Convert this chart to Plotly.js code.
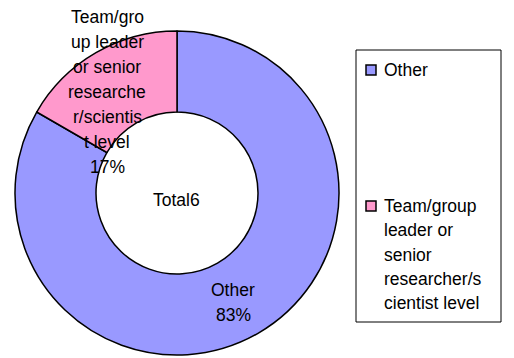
<!DOCTYPE html>
<html>
<head>
<meta charset="utf-8">
<script src="https://cdn.plot.ly/plotly-3.0.1.min.js"></script>
<style>html,body{margin:0;padding:0;background:#fff;}#chart{width:514px;height:358px;}</style>
</head>
<body>
<div id="chart"></div>
<script>
const labels = ['Other', 'Team/group leader or senior researcher/scientist level'];
const values = [5, 1];
const colors = ['#9999ff', '#ff99cc'];
const centerText = 'Total6';
const sliceLabelLines = [['Other'], ['Team/gro', 'up leader', 'or senior', 'researche', 'r/scientis', 't level']];
const legendLines = [['Other'], ['Team/group', 'leader or', 'senior', 'researcher/s', 'cientist level']];

const W = 514, H = 358;
const px = x => x / W;
const py = y => 1 - y / H;
const FONT = 'Liberation Sans, Arial, sans-serif';
const FS = 17.5;
const total = values.reduce((a, b) => a + b, 0);
const pct = values.map(v => Math.round(100 * v / total) + '%');

const annotations = [];
function addLine(text, x, y, anchor) {
  annotations.push({
    text: text, x: px(x), y: py(y), xref: 'paper', yref: 'paper',
    xanchor: anchor || 'center', yanchor: 'middle', showarrow: false,
    font: {family: FONT, size: FS, color: '#000'}
  });
}
// slice labels
const sliceLabelPos = [{x: 233, y: 290}, {x: 107, y: 17}];
const LH = 25;
sliceLabelLines.forEach((lines, i) => {
  const all = lines.concat([pct[i]]);
  all.forEach((t, j) => addLine(t, sliceLabelPos[i].x, sliceLabelPos[i].y + j * LH));
});
// center text
addLine(centerText, 176, 200);

// legend
const shapes = [{
  type: 'rect', xref: 'paper', yref: 'paper',
  x0: px(356), x1: px(501), y0: py(50), y1: py(322),
  line: {color: '#000', width: 1}, fillcolor: 'rgba(0,0,0,0)'
}];
const legendTop = [70, 206];
const LLH = 24.3;
legendLines.forEach((lines, i) => {
  shapes.push({
    type: 'rect', xref: 'paper', yref: 'paper',
    x0: px(366), x1: px(376), y0: py(legendTop[i] - 5), y1: py(legendTop[i] + 5),
    line: {color: '#000', width: 1.5}, fillcolor: colors[i]
  });
  lines.forEach((t, j) => addLine(t, 382, legendTop[i] + j * LLH, 'left'));
});

const trace = {
  type: 'pie',
  labels: labels,
  values: values,
  hole: 0.5,
  sort: false,
  direction: 'clockwise',
  rotation: 0,
  textinfo: 'none',
  hoverinfo: 'none',
  marker: {colors: colors, line: {color: '#000', width: 1.5}},
  domain: {x: [px(15), px(339)], y: [py(355), py(31)]}
};

const layout = {
  width: W, height: H,
  margin: {l: 0, r: 0, t: 0, b: 0},
  paper_bgcolor: '#fff',
  showlegend: false,
  annotations: annotations,
  shapes: shapes
};
Plotly.newPlot('chart', [trace], layout, {displayModeBar: false, staticPlot: true});
</script>
</body>
</html>
